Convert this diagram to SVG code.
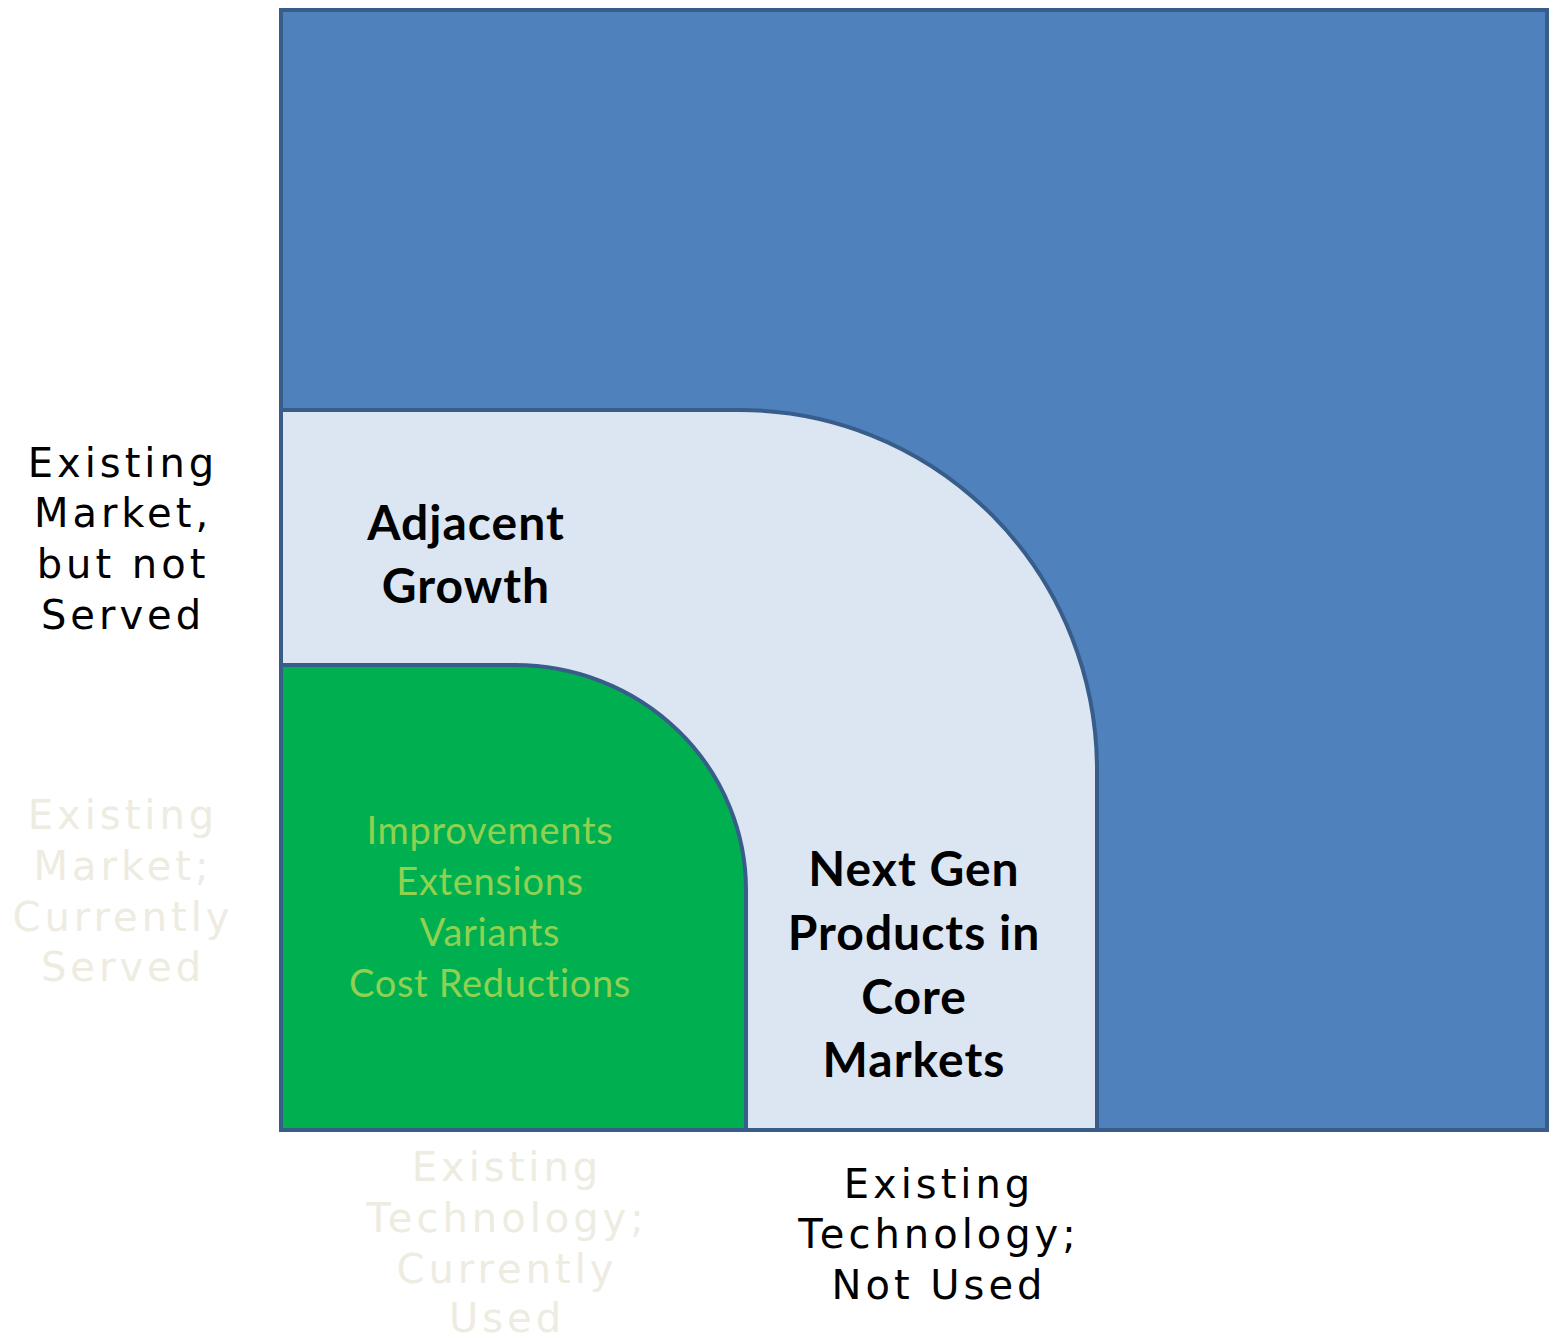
<svg xmlns="http://www.w3.org/2000/svg" width="1554" height="1338" viewBox="0 0 1554 1338">
<style>
.shape{stroke:#385D8A;stroke-width:4}
.axis{font-family:"DejaVu Sans",Verdana,sans-serif;font-size:40px;letter-spacing:4px;text-anchor:middle}
.dark{fill:#000}
.faint{fill:#EEECE1}
.bold{font-family:Lato,"Open Sans",sans-serif;font-weight:bold;font-size:48px;letter-spacing:1px;text-anchor:middle;fill:#000}
.green{font-family:Lato,"Open Sans",sans-serif;font-size:38px;letter-spacing:0.7px;text-anchor:middle;fill:#92D050}
</style>
<rect width="1554" height="1338" fill="#fff"/>
<g id="outer">
<rect class="shape" x="281" y="10" width="1266" height="1120" fill="#4F81BD"/>
</g>
<g id="adjacent">
<path class="shape" d="M281,410 H740 A357,360 0 0 1 1097,770 V1130 H281 Z" fill="#DCE6F2"/>
<text class="bold" x="466" y="540">Adjacent</text>
<text class="bold" x="466" y="603">Growth</text>
<text class="bold" x="914" y="886">Next Gen</text>
<text class="bold" x="914" y="950">Products in</text>
<text class="bold" x="914" y="1014">Core</text>
<text class="bold" x="914" y="1077">Markets</text>
</g>
<g id="core">
<path class="shape" d="M281,665 H515 A231,225 0 0 1 746,890 V1130 H281 Z" fill="#00B050"/>
<text class="green" x="490" y="844">Improvements</text>
<text class="green" x="490" y="895">Extensions</text>
<text class="green" x="490" y="946">Variants</text>
<text class="green" x="490" y="997">Cost Reductions</text>
</g>
<g id="label-market-not-served">
<text class="axis dark" x="123" y="477">Existing</text>
<text class="axis dark" x="123" y="527">Market,</text>
<text class="axis dark" x="123" y="578">but not</text>
<text class="axis dark" x="123" y="629">Served</text>
</g>
<g id="label-market-served">
<text class="axis faint" x="123" y="829">Existing</text>
<text class="axis faint" x="123" y="880">Market;</text>
<text class="axis faint" x="123" y="931">Currently</text>
<text class="axis faint" x="123" y="981">Served</text>
</g>
<g id="label-tech-used">
<text class="axis faint" x="507" y="1181">Existing</text>
<text class="axis faint" x="507" y="1232">Technology;</text>
<text class="axis faint" x="507" y="1283">Currently</text>
<text class="axis faint" x="507" y="1332">Used</text>
</g>
<g id="label-tech-not-used">
<text class="axis dark" x="939" y="1198">Existing</text>
<text class="axis dark" x="939" y="1248">Technology;</text>
<text class="axis dark" x="939" y="1299">Not Used</text>
</g>
<g id="connectors"/>
</svg>
